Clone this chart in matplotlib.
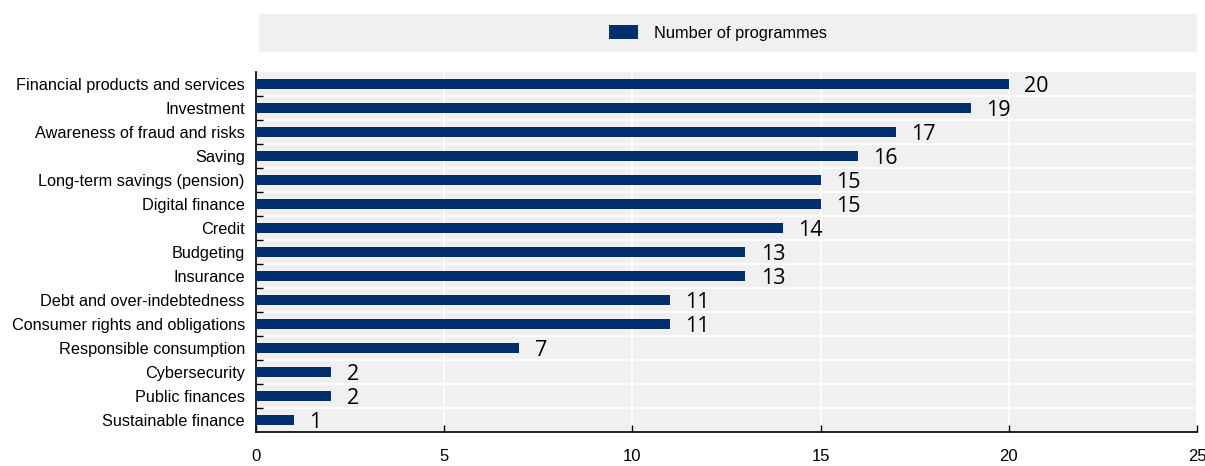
"""Horizontal bar chart: number of programmes by topic."""
import matplotlib
matplotlib.use("Agg")
import matplotlib.pyplot as plt
from matplotlib.patches import Rectangle, Patch
from matplotlib.ticker import MultipleLocator

categories = [
    "Financial products and services", "Investment", "Awareness of fraud and risks",
    "Saving", "Long-term savings (pension)", "Digital finance", "Credit",
    "Budgeting", "Insurance", "Debt and over-indebtedness",
    "Consumer rights and obligations", "Responsible consumption",
    "Cybersecurity", "Public finances", "Sustainable finance",
]
programmes = [20, 19, 17, 16, 15, 15, 14, 13, 13, 11, 11, 7, 2, 2, 1]
series_name = "Number of programmes"

NAVY = "#002F6C"
BG = "#F0F0F0"
LABEL_FONT = ["Liberation Sans", "DejaVu Sans"]

fig = plt.figure(figsize=(12.05, 4.66), dpi=100)
ax = fig.add_axes([0.2124, 0.073, 0.7810, 0.7725])
ax.set_facecolor(BG)

y = list(range(len(categories)))
ax.barh(y, programmes, height=0.45, color=NAVY, zorder=3)
for yi, v in zip(y, programmes):
    ax.annotate(str(v), (v, yi), xytext=(11, -2), textcoords="offset points",
                va="center", ha="left", fontsize=15.5, family=["Open Sans", "DejaVu Sans"])

ax.set_xlim(0, 25)
ax.set_ylim(len(categories) - 0.5, -0.5)
ax.xaxis.set_major_locator(MultipleLocator(5))
ax.set_yticks(y)
ax.set_yticklabels(categories, family=LABEL_FONT, fontsize=11.7)
ax.set_yticks([k - 0.5 for k in range(1, len(categories))], minor=True)
ax.tick_params(axis="y", which="major", length=0, pad=8)
ax.tick_params(axis="y", which="minor", length=5, direction="in", width=1)
ax.tick_params(axis="x", direction="in", length=5, width=1, pad=12, labelsize=12)
for lab in ax.get_xticklabels():
    lab.set_family(LABEL_FONT)

ax.grid(axis="x", which="major", color="white", lw=1.2, zorder=1)
ax.grid(axis="y", which="minor", color="white", lw=1.2, zorder=1)
for s in ("top", "right"):
    ax.spines[s].set_visible(False)
for s in ("left", "bottom"):
    ax.spines[s].set_linewidth(1.2)

# legend band
fig.patches.append(Rectangle((259 / 1205, 1 - 52 / 466), (1197 - 259) / 1205, 38 / 466,
                             transform=fig.transFigure, facecolor=BG, edgecolor="none"))
fig.legend(handles=[Patch(facecolor=NAVY, label=series_name)], loc="center",
           bbox_to_anchor=(718 / 1205, 1 - 33 / 466), frameon=False,
           handlelength=1.8, handleheight=0.9, handletextpad=1.0,
           prop={"family": LABEL_FONT, "size": 11.8})

fig.savefig("out.png", dpi=100)
